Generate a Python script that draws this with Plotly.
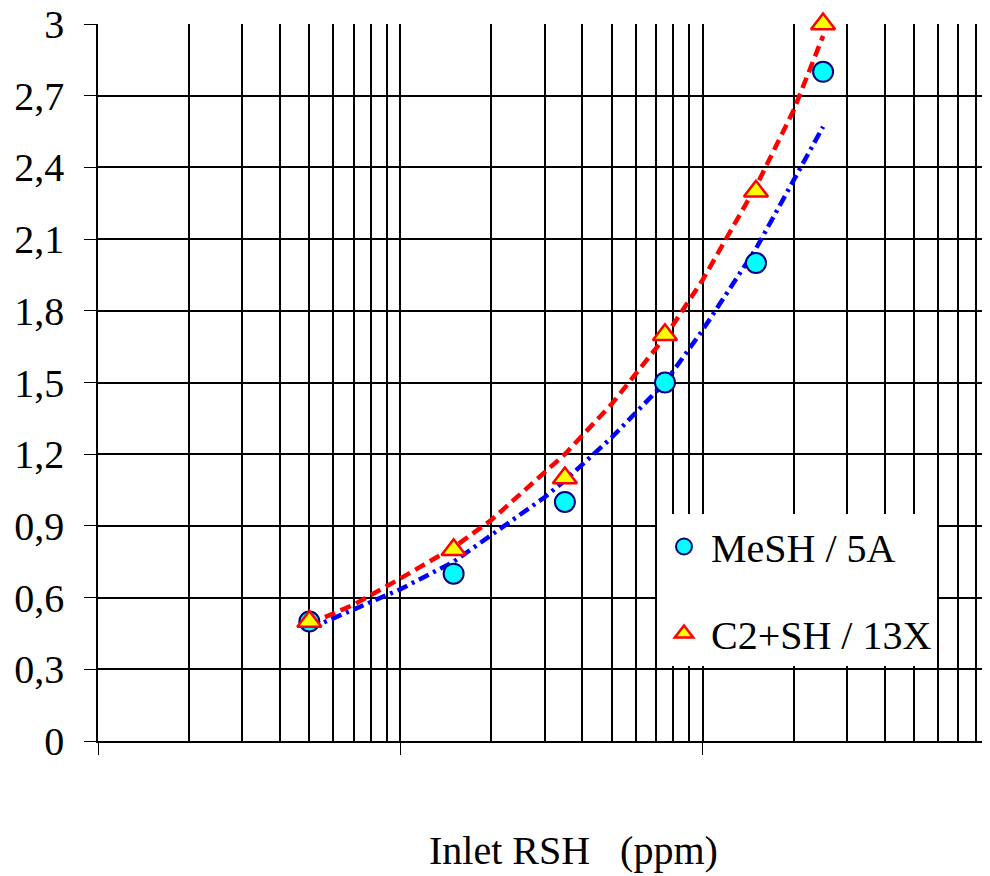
import plotly.graph_objects as go

# ---- data ----
rsh_ppm = [5, 15, 35, 75, 150, 250]
mesh_5a = [0.5, 0.7, 1.0, 1.5, 2.0, 2.8]
c2sh_13x = [0.5, 0.8, 1.1, 1.7, 2.3, 3.0]

trend_x = [5, 7, 10, 15, 20, 30, 35, 50, 75, 100, 150, 200, 250]
mesh_trend = [0.47, 0.55, 0.635, 0.75, 0.86, 1.02, 1.09, 1.27, 1.50, 1.72, 2.06, 2.35, 2.57]
c2sh_trend = [0.49, 0.57, 0.68, 0.81, 0.925, 1.12, 1.20, 1.41, 1.69, 1.93, 2.32, 2.64, 2.95]

y_tickvals = [0, 0.3, 0.6, 0.9, 1.2, 1.5, 1.8, 2.1, 2.4, 2.7, 3.0]
y_ticktext = ["0", "0,3", "0,6", "0,9", "1,2", "1,5", "1,8", "2,1", "2,4", "2,7", "3"]
x_major = [1, 10, 100]
x_minor = [2, 3, 4, 5, 6, 7, 8, 9, 20, 30, 40, 50, 60, 70, 80, 90,
           200, 300, 400, 500, 600, 700, 800, 900]

FONT = "Liberation Serif, Times New Roman, serif"

# page body has an 8px default margin: figure is offset by it
W, H = 982, 868
L, T, B = 90, 16, 135
PW = W - L
PH = H - T - B

fig = go.Figure()

fig.add_trace(go.Scatter(
    x=trend_x, y=mesh_trend, mode="lines", showlegend=False, hoverinfo="skip",
    line=dict(color="#0000FF", width=4.5, dash="11px,5px,3px,5px"),
    cliponaxis=False))
fig.add_trace(go.Scatter(
    x=trend_x, y=c2sh_trend, mode="lines", showlegend=False, hoverinfo="skip",
    line=dict(color="#FF0000", width=4.5, dash="11px,6px"),
    cliponaxis=False))

fig.add_trace(go.Scatter(
    x=rsh_ppm, y=mesh_5a, mode="markers", name="MeSH / 5A", legendgroup="a",
    marker=dict(symbol="circle", size=20, color="#00FFFF",
                line=dict(color="#000080", width=2)),
    cliponaxis=False))
fig.add_trace(go.Scatter(
    x=rsh_ppm, y=c2sh_13x, mode="markers", name="C2+SH / 13X", legendgroup="b",
    marker=dict(symbol="triangle-up", size=21, color="#FFFF00",
                line=dict(color="#FF0000", width=2.5)),
    cliponaxis=False))

fig.update_layout(
    width=W, height=H,
    margin=dict(l=L, r=0, t=T, b=B, pad=0, autoexpand=False),
    paper_bgcolor="white", plot_bgcolor="white",
    font=dict(family=FONT, size=40, color="black"),
    showlegend=True,
    legend=dict(x=(649 - L) / PW, y=1 - (506 - T) / PH, xanchor="left", yanchor="top",
                bgcolor="white", borderwidth=0,
                font=dict(family=FONT, size=40, color="black"),
                tracegroupgap=32, itemwidth=44),
    xaxis=dict(type="log", range=[0, 2.95], automargin=False,
               tickmode="array", tickvals=x_major, showticklabels=False,
               ticks="outside", ticklen=12, tickcolor="black", tickwidth=1.2,
               showgrid=True, gridcolor="black", gridwidth=1.5,
               showline=True, linecolor="black", linewidth=1.5,
               zeroline=False,
               minor=dict(tickmode="array", tickvals=x_minor, showgrid=True,
                          gridcolor="black", gridwidth=1.5, ticks="")),
    yaxis=dict(range=[0, 3], automargin=False, tickmode="array", tickvals=y_tickvals,
               ticktext=y_ticktext, ticklabeloverflow="allow",
               ticks="outside", ticklen=12, tickcolor="black", tickwidth=1.2,
               ticklabelstandoff=12,
               showgrid=True, gridcolor="black", gridwidth=1.5,
               showline=True, linecolor="black", linewidth=1.5,
               zeroline=False,
               tickfont=dict(family=FONT, size=40, color="black")),
    annotations=[dict(text="Inlet RSH\u00a0\u00a0\u00a0(ppm)", xref="paper", yref="paper",
                      x=(565 - L) / PW, y=-(842 - 733) / PH,
                      xanchor="center", yanchor="middle", showarrow=False,
                      font=dict(family=FONT, size=40, color="black"))],
)

fig.write_html("out.html")
